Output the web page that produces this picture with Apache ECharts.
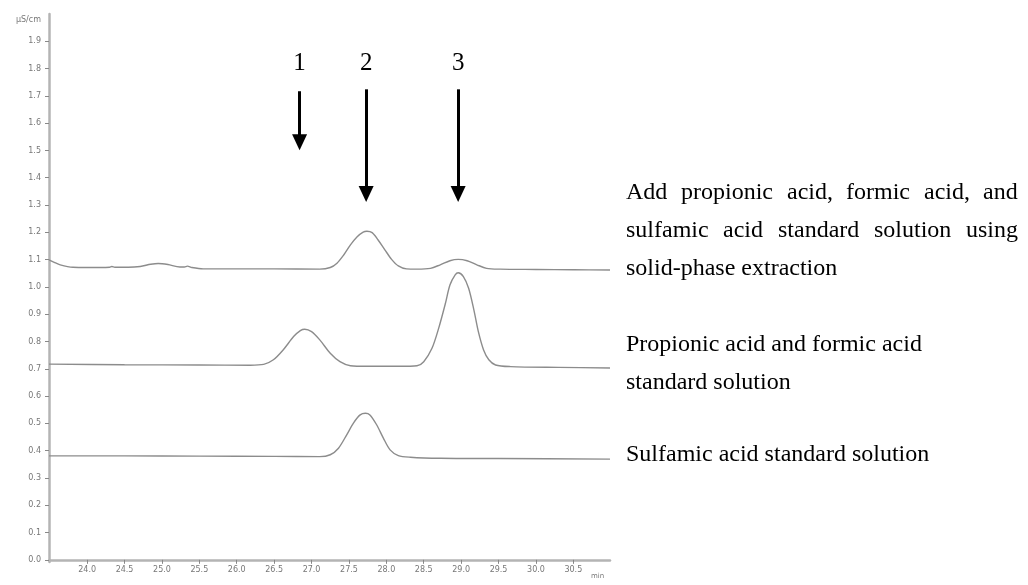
<!DOCTYPE html>
<html>
<head>
<meta charset="utf-8">
<script src="https://cdn.jsdelivr.net/npm/echarts@6/dist/echarts.min.js"></script>
<style>
  html, body { margin: 0; padding: 0; background: #fff; }
  #chart { width: 1028px; height: 585px; }
</style>
</head>
<body>
<div id="chart"></div>
<script>
// ---- Data ----
const timesTop = [23.49, 23.56, 23.64, 23.81, 24.00, 24.17, 24.30, 24.33, 24.37, 24.55, 24.71, 24.85, 24.95, 25.08, 25.24, 25.30, 25.34, 25.40, 25.55, 26.00, 26.50, 27.11, 27.25, 27.34, 27.43, 27.52, 27.61, 27.69, 27.74, 27.81, 27.89, 27.98, 28.07, 28.16, 28.27, 28.41, 28.59, 28.72, 28.85, 28.96, 29.08, 29.21, 29.34, 29.52, 30.00, 30.50, 30.99];
const valuesTop = [1.099, 1.090, 1.081, 1.072, 1.071, 1.071, 1.072, 1.075, 1.072, 1.072, 1.075, 1.083, 1.086, 1.082, 1.073, 1.073, 1.076, 1.071, 1.066, 1.066, 1.066, 1.065, 1.071, 1.087, 1.117, 1.154, 1.184, 1.201, 1.204, 1.199, 1.172, 1.136, 1.101, 1.077, 1.066, 1.065, 1.068, 1.081, 1.096, 1.101, 1.096, 1.081, 1.068, 1.065, 1.064, 1.063, 1.062];

const timesMid = [23.49, 24.50, 25.50, 26.18, 26.36, 26.49, 26.62, 26.76, 26.85, 26.91, 27.00, 27.11, 27.25, 27.38, 27.52, 27.74, 28.18, 28.41, 28.50, 28.61, 28.70, 28.79, 28.85, 28.92, 28.96, 29.03, 29.10, 29.17, 29.23, 29.30, 29.37, 29.46, 29.66, 30.30, 30.99];
const valuesMid = [0.717, 0.715, 0.714, 0.713, 0.716, 0.733, 0.769, 0.818, 0.840, 0.845, 0.836, 0.806, 0.757, 0.726, 0.711, 0.709, 0.709, 0.711, 0.726, 0.775, 0.849, 0.940, 1.007, 1.044, 1.052, 1.038, 0.995, 0.916, 0.836, 0.769, 0.733, 0.714, 0.708, 0.705, 0.703];

const timesBot = [23.49, 24.50, 25.50, 26.50, 27.11, 27.25, 27.36, 27.47, 27.56, 27.65, 27.72, 27.78, 27.87, 27.96, 28.05, 28.16, 28.32, 28.72, 29.50, 30.99];
const valuesBot = [0.381, 0.381, 0.380, 0.379, 0.378, 0.385, 0.409, 0.458, 0.501, 0.531, 0.537, 0.531, 0.495, 0.446, 0.403, 0.382, 0.376, 0.372, 0.371, 0.369];

const xTicks = [24.0, 24.5, 25.0, 25.5, 26.0, 26.5, 27.0, 27.5, 28.0, 28.5, 29.0, 29.5, 30.0, 30.5];
const yTicks = [0.0, 0.1, 0.2, 0.3, 0.4, 0.5, 0.6, 0.7, 0.8, 0.9, 1.0, 1.1, 1.2, 1.3, 1.4, 1.5, 1.6, 1.7, 1.8, 1.9];

// peak annotations: label, time, arrow start, arrow end
const peakLabels = ['1', '2', '3'];
const peakTimes = [26.84, 27.73, 28.96];
const arrowStart = [1.717, 1.724, 1.724];
const arrowEnd = [1.530, 1.340, 1.340];
const labelLevel = 1.82;

// trace descriptions (lines of each paragraph)
const traceNames = [
  ['Add propionic acid, formic acid, and', 'sulfamic acid standard solution using', 'solid-phase extraction'],
  ['Propionic acid and formic acid', 'standard solution'],
  ['Sulfamic acid standard solution']
];
const justifiedLines = [[true, true, false], [false, false], [false]];

function pairs(xs, ys) { return xs.map((x, i) => [x, ys[i]]); }

const lineStyle = { color: '#8c8c8c', width: 1.4 };
const serif = '"Liberation Serif", "Times New Roman", serif';
const textFont = '24px ' + serif;

// ---- text layout for the description block ----
const blockLeft = 626, blockRight = 1018;
const lineTops = [[193, 231, 269], [345, 383], [455]];
const measureCtx = document.createElement('canvas').getContext('2d');
measureCtx.font = textFont;
const graphics = [];
traceNames.forEach((para, pi) => {
  para.forEach((line, li) => {
    const top = lineTops[pi][li] - 12;
    if (!justifiedLines[pi][li]) {
      graphics.push({ type: 'text', left: blockLeft, top: top, style: { text: line, fill: '#000', font: textFont } });
      return;
    }
    const words = line.split(' ');
    const widths = words.map(w => measureCtx.measureText(w).width);
    const total = widths.reduce((a, b) => a + b, 0);
    const gap = (blockRight - blockLeft - total) / (words.length - 1);
    let x = blockLeft;
    words.forEach((w, wi) => {
      graphics.push({ type: 'text', left: Math.round(x), top: top, style: { text: w, fill: '#000', font: textFont } });
      x += widths[wi] + gap;
    });
  });
});

const chart = echarts.init(document.getElementById('chart'));

chart.setOption({
  animation: false,
  backgroundColor: '#ffffff',
  grid: { left: 49, right: 418, top: 14, bottom: 23 },
  xAxis: {
    type: 'value',
    min: 23.49,
    max: 30.99,
    name: 'min',
    nameLocation: 'end',
    nameGap: -19,
    nameTextStyle: { color: '#777', fontSize: 7, fontFamily: 'DejaVu Sans', verticalAlign: 'top', padding: [13, 0, 0, 0] },
    axisLine: { lineStyle: { color: '#b4b4b4', width: 2.5 } },
    axisTick: { show: true, length: 4, inside: false, customValues: xTicks, lineStyle: { color: '#888' } },
    axisLabel: { customValues: xTicks, color: '#777', fontSize: 8, fontFamily: 'DejaVu Sans', margin: 4, formatter: v => v.toFixed(1) },
    splitLine: { show: false }
  },
  yAxis: {
    type: 'value',
    min: -0.008,
    max: 2.0,
    name: 'µS/cm',
    nameLocation: 'end',
    nameGap: -10,
    nameTextStyle: { color: '#777', fontSize: 8, fontFamily: 'DejaVu Sans', align: 'right', padding: [0, 8, 0, 0] },
    axisLine: { show: true, lineStyle: { color: '#b4b4b4', width: 2.5 } },
    axisTick: { show: true, length: 4, customValues: yTicks, lineStyle: { color: '#888' } },
    axisLabel: { customValues: yTicks, color: '#777', fontSize: 8, fontFamily: 'DejaVu Sans', margin: 8, formatter: v => v.toFixed(1) },
    splitLine: { show: false }
  },
  series: [
    {
      type: 'line', name: 'top', data: pairs(timesTop, valuesTop), smooth: 0.3, symbol: 'none', lineStyle: lineStyle,
      markLine: {
        silent: true, symbol: ['none', 'triangle'], symbolSize: [15, 16],
        lineStyle: { color: '#000', width: 3, type: 'solid' },
        label: { show: false },
        data: peakTimes.map((t, i) => [{ coord: [t, arrowStart[i]] }, { coord: [t, arrowEnd[i]] }])
      },
      markPoint: {
        silent: true, symbol: 'circle', symbolSize: 0,
        label: { show: true, position: 'inside', color: '#000', fontSize: 25, fontFamily: serif, formatter: p => p.name },
        data: peakTimes.map((t, i) => ({ name: peakLabels[i], coord: [t, labelLevel] }))
      }
    },
    { type: 'line', name: 'mid', data: pairs(timesMid, valuesMid), smooth: 0.3, symbol: 'none', lineStyle: lineStyle },
    { type: 'line', name: 'bot', data: pairs(timesBot, valuesBot), smooth: 0.3, symbol: 'none', lineStyle: lineStyle }
  ],
  graphic: graphics
});
</script>
</body>
</html>
